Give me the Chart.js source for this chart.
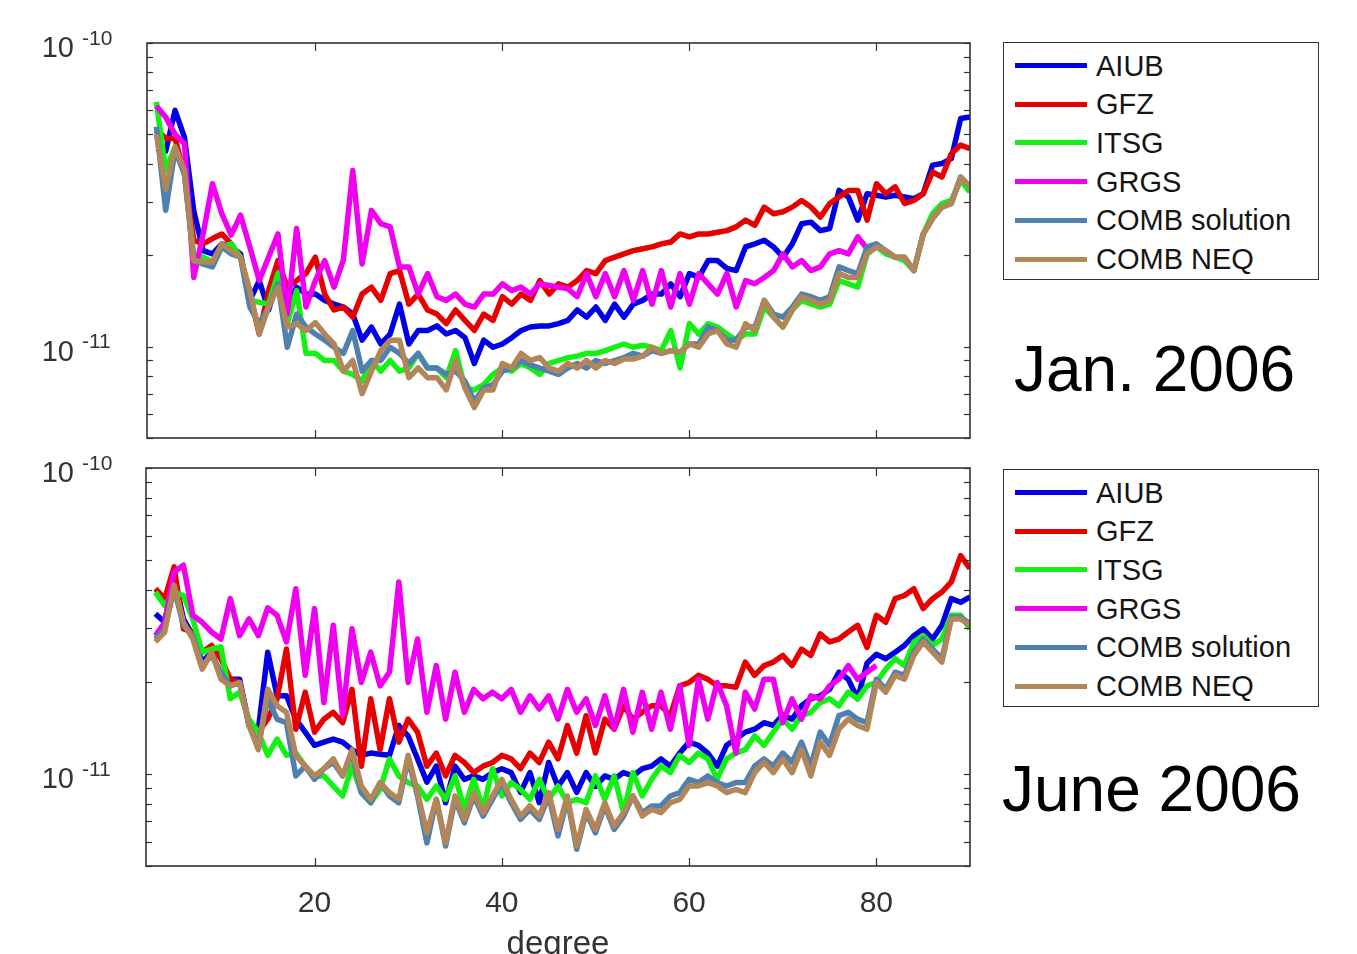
<!DOCTYPE html>
<html><head><meta charset="utf-8">
<script src="https://cdn.jsdelivr.net/npm/chart.js@4.4.1/dist/chart.umd.min.js"></script>
<style>
html,body{margin:0;padding:0;background:#fff;}
body{width:1357px;height:954px;overflow:hidden;position:relative;font-family:"Liberation Sans",Arial,Helvetica,sans-serif;}
canvas{position:absolute;left:0;}
.legend{position:absolute;left:1003px;width:314px;height:236px;border:1.5px solid #333;background:#fff;}
.sw{position:absolute;left:1015px;width:72px;height:5px;}
.lbl{position:absolute;left:1096px;height:38px;line-height:38px;font-size:29px;color:#151515;white-space:nowrap;}
.big{position:absolute;height:66px;line-height:66px;font-size:64px;color:#000;white-space:nowrap;}
</style></head>
<body>
<canvas id="c1" width="1000" height="460" style="top:0px"></canvas>
<canvas id="c2" width="1000" height="520" style="top:455px"></canvas>
<div id="overlay"></div>
<script>
const FONT = '"Liberation Sans", Arial, Helvetica, sans-serif';
const UNIT = 1e-12; // all series values below are in units of 1e-12

const degrees = [3,4,5,6,7,8,9,10,11,12,13,14,15,16,17,18,19,20,21,22,23,24,25,26,27,28,29,30,31,32,
33,34,35,36,37,38,39,40,41,42,43,44,45,46,47,48,49,50,51,52,53,54,55,56,57,58,59,60,61,62,
63,64,65,66,67,68,69,70,71,72,73,74,75,76,77,78,79,80,81,82,83,84,85,86,87,88,89,90];

const seriesNames = ['AIUB','GFZ','ITSG','GRGS','COMB solution','COMB NEQ'];
const seriesColors = ['#0000e6','#e60000','#14f014','#f000f0','#5080b0','#b3865a'];
const panelTitles = ['Jan. 2006','June 2006'];

const xTickValues = [20,40,60,80];
const yMajorTicks = [10,100];
const yTickExponents = ['-11','-10'];
const yMinorTicks = [5,6,7,8,9,20,30,40,50,60,70,80,90];

// ---- January 2006 ----
const janAIUB = [45,44,60,49,28,20.7,20.2,21.8,21.3,20.2,
14.2,16.5,13.2,16.5,13.5,15.7,14.9,14.9,14.2,13.8,
13.5,12.8,10.5,11.6,10.2,11.0,13.8,10.2,11.3,11.3,
11.7,11.0,11.3,10.7,8.8,10.5,9.95,10.2,10.7,11.3,
11.6,11.7,11.7,11.9,12.2,13.2,12.5,13.5,12.2,13.8,
12.5,13.8,14.2,14.9,14.9,16.1,14.6,17.4,16.9,19.2,
19.2,18.1,17.8,21.3,21.8,22.4,21.3,19.7,21.8,25.4,
25.7,24.1,24.5,32.7,31.1,26.1,31.9,31.5,31.1,31.5,
31.1,30.7,31.9,39.6,40.1,41.6,56.4,57.1];
const janGFZ = [52,48.5,48.5,37,22.4,21.8,22.7,23.5,21.8,19.7,
14.9,11.0,15.3,19.2,15.7,16.5,17.4,19.7,14.9,13.2,
13.5,12.5,14.9,15.7,14.2,17.4,17.8,13.8,14.9,13.2,
12.8,11.9,13.2,12.2,11.3,12.8,12.2,14.6,13.8,14.9,
14.2,16.5,14.9,16.1,15.7,16.5,17.8,17.4,19.2,19.7,
20.2,20.7,21.0,21.3,21.8,22.1,23.5,23.0,23.5,23.5,
23.8,24.1,24.8,26.1,25.1,28.8,27.4,27.8,28.8,30.3,
28.8,26.7,29.6,31.1,32.7,32.7,26.1,34.4,31.9,33.6,
29.6,30.3,31.9,37.6,36.2,43.2,46.1,44.9];
const janITSG = [64,38,45.5,37,20,19.7,19.0,21.3,21.8,19.7,
14.2,14.0,13.8,17.4,11.9,15.3,9.5,9.5,9.0,9.0,
8.3,8.1,7.7,9.0,8.3,9.0,8.3,8.5,9.5,8.5,
8.5,7.9,9.7,7.3,7.2,7.5,8.1,8.5,8.3,8.8,
8.5,8.1,8.8,9.0,9.2,9.3,9.5,9.5,9.7,9.95,
10.2,9.95,10.1,9.95,9.7,11.3,8.5,11.9,11.0,11.9,
11.6,11.0,10.5,11.0,11.0,13.5,12.5,11.6,13.2,14.2,
13.8,13.5,13.8,16.5,16.1,15.7,20.2,21.3,20.2,19.7,
19.2,17.8,23.5,27.4,29.6,30.3,35.3,32.3];
const janGRGS = [62,57,50,46.7,16.9,23.5,34.4,27.4,23.3,27.1,
21.3,16.5,19.7,23.5,12.8,24.5,13.5,16.5,19.2,15.7,
19.3,38,18.7,28.1,25.4,24.8,18.3,18.3,14.9,17.4,
14.6,14.2,14.9,13.8,13.5,14.9,14.9,16.1,15.3,15.7,
14.9,16.1,15.9,15.7,15.5,14.6,17.4,14.6,17.4,14.6,
17.8,14.2,17.8,13.8,17.8,13.5,17.4,13.8,17.4,16.1,
14.9,17.4,13.5,16.5,16.1,16.9,17.8,20.2,18.3,19.2,
17.8,18.3,20.2,20.7,20.2,23.0,21.0];
const janCOMBsol = [53,28.1,44.4,37,19.2,18.7,18.3,21.3,20.2,19.7,
13.5,11.9,13.5,16.1,9.95,12.8,11.6,11.0,10.5,9.95,
9.5,11.3,8.3,9.0,9.0,9.95,9.5,8.8,9.5,8.5,
8.5,8.1,8.3,7.7,6.6,7.3,7.5,8.3,8.5,9.0,
8.7,8.5,8.3,8.1,8.5,8.8,8.5,9.0,8.8,9.0,
9.2,9.5,9.3,9.7,9.5,9.7,9.6,10.2,10.2,11.6,
11.3,10.5,10.5,11.6,11.6,14.2,12.8,12.5,13.5,14.9,
14.6,14.2,14.6,18.3,17.8,17.4,21.3,21.8,20.7,19.7,
19.7,17.8,23.5,26.4,28.8,29.6,36.2,33.6];
const janCOMBneq = [50,33,45.5,38,19.2,19.0,19.0,21.8,20.7,19.7,
15.3,11.0,13.5,15.7,11.6,11.9,11.3,12.0,11.0,10.2,
8.3,9.0,7.0,8.3,9.7,10.5,10.5,7.9,8.5,7.9,
7.9,7.2,9.0,7.3,6.3,7.2,7.2,8.8,8.5,9.5,
9.0,9.2,8.5,8.3,8.8,8.5,9.0,8.5,9.0,8.8,
9.1,9.1,9.3,9.95,9.5,9.7,9.6,10.2,9.95,11.0,
11.3,10.2,9.95,11.9,11.3,14.2,12.5,11.6,13.2,14.6,
14.2,13.8,14.2,17.4,16.9,16.9,20.2,21.3,20.7,19.7,
19.7,17.8,23.5,26.4,28.8,29.6,36.2,33.6];

// ---- June 2006 ----
const junAIUB = [33.4,31.3,44.6,32.1,28.3,23.2,25.0,21.0,20.4,20.4,
14.4,14.0,25.0,18.0,18.0,15.1,13.7,12.4,12.7,13.0,
12.7,12.0,11.5,11.7,11.6,11.5,14.4,13.3,11.2,9.4,
10.6,8.05,10.6,9.6,9.85,9.6,10.1,10.4,10.1,8.7,
10.1,8.05,10.9,9.1,10.1,8.7,10.1,9.1,9.85,9.6,
10.1,9.85,10.4,10.6,11.2,10.6,11.7,12.7,12.4,11.7,
10.6,12.4,13.0,13.7,14.0,14.7,14.4,15.6,15.1,16.7,
17.6,18.0,18.9,21.5,20.4,17.6,23.0,24.6,23.8,25.0,
26.3,28.3,29.8,27.6,30.6,37.4,36.4,37.9];
const junGFZ = [40.3,37.4,47.5,29.8,29.1,25.0,26.3,23.8,20.4,19.9,
14.7,13.7,15.1,17.6,25.6,14.0,18.5,13.7,15.1,15.9,
14.7,18.9,10.6,17.6,12.0,17.6,12.7,15.1,13.7,10.6,
11.7,9.85,11.5,10.9,10.1,10.6,10.9,11.5,11.2,10.4,
11.7,10.9,12.7,11.2,14.4,11.7,15.5,11.7,15.1,14.0,
16.7,15.1,15.9,16.7,16.7,15.5,19.4,19.9,21.0,20.4,
19.4,19.4,19.2,23.2,21.0,22.6,23.2,24.4,22.6,25.6,
24.4,28.7,27.0,27.6,29.1,30.6,25.9,33.0,31.3,37.4,
38.3,40.3,34.7,37.4,39.3,42.4,51.7,46.9];
const junITSG = [39.3,35.5,39.3,38.3,32.1,25.0,25.6,26.0,17.6,18.5,
15.1,13.7,11.5,13.0,11.5,11.7,10.6,9.85,9.85,9.13,
8.47,10.6,8.69,8.05,8.9,11.2,9.85,9.37,9.13,8.26,
9.13,8.26,9.85,7.66,9.6,7.66,10.4,8.47,9.37,8.9,
8.26,9.6,8.26,9.13,8.05,8.26,8.05,9.85,8.26,9.85,
7.47,10.1,8.47,9.6,10.6,10.1,11.5,10.9,11.7,11.2,
9.6,11.2,11.7,12.0,13.3,12.4,13.7,15.1,14.0,15.5,
15.9,17.1,17.6,16.7,18.5,17.6,19.4,19.9,22.0,23.8,
22.6,27.0,28.3,26.3,27.6,33.0,33.0,29.8];
const junGRGS = [28.3,31.3,45.7,48.1,33.0,31.3,29.1,27.6,37.4,28.3,
32.1,28.3,34.9,33.0,27.0,40.3,21.0,34.7,17.1,30.6,
15.5,29.8,19.9,25.0,19.4,21.5,42.4,19.9,27.6,15.9,
22.6,15.1,21.5,15.9,18.9,17.6,18.5,17.6,18.9,15.9,
18.0,16.3,18.0,15.1,18.9,15.9,17.6,14.4,18.0,14.0,
18.9,13.7,18.5,14.0,18.5,14.0,19.4,12.4,20.4,15.1,
19.9,16.7,11.7,18.5,16.3,20.4,20.4,14.7,17.6,15.1,
18.0,17.6,19.4,20.4,22.6,20.4,21.5,22.6];
const junCOMBsol = [27.6,29.8,40.3,30.6,28.3,22.6,24.4,21.5,19.4,19.9,
14.4,12.4,17.6,15.1,14.7,9.85,10.6,9.6,10.4,10.9,
9.85,11.7,8.69,8.05,9.37,8.47,8.05,11.2,8.47,5.95,
8.26,5.81,8.26,6.92,8.47,7.28,8.26,9.37,8.05,7.1,
7.66,7.1,8.47,6.27,8.26,5.67,7.47,6.42,7.86,6.58,
7.28,8.47,7.47,7.86,7.86,8.47,8.69,9.6,9.37,9.85,
9.37,9.13,9.37,9.37,10.6,11.2,10.6,11.7,10.9,12.7,
10.6,13.7,12.4,15.5,15.9,15.1,14.7,20.4,18.9,21.5,
21.0,25.0,27.6,25.6,23.8,32.5,32.5,31.0];
const junCOMBneq = [27.0,29.1,41.4,31.3,27.6,22.0,25.0,20.4,19.4,19.9,
14.4,12.0,18.9,16.7,15.9,11.5,10.6,9.85,10.4,11.2,
9.85,12.0,9.13,8.26,9.37,8.69,8.26,11.5,8.69,6.42,
8.26,5.95,8.47,7.1,8.69,7.47,8.47,9.6,8.26,7.28,
7.86,7.28,8.69,6.58,8.47,5.81,7.66,6.58,8.05,6.75,
7.47,8.47,7.28,7.66,7.47,8.05,8.26,9.13,9.13,9.37,
9.13,8.69,8.9,8.69,10.1,10.9,10.1,11.2,10.1,12.0,
9.85,12.7,11.5,14.0,15.1,14.4,14.0,19.9,18.5,21.0,
20.4,24.4,27.0,25.0,23.2,32.1,32.1,30.6];

const janSeries = [janAIUB,janGFZ,janITSG,janGRGS,janCOMBsol,janCOMBneq];
const junSeries = [junAIUB,junGFZ,junITSG,junGRGS,junCOMBsol,junCOMBneq];

function toPoints(arr){ return arr.map((v,i)=>({x:degrees[i], y:v*UNIT})); }

const framePlugin = {
  id:'frame',
  afterDraw(chart){
    const {ctx, chartArea:a, scales:{x,y}} = chart;
    ctx.save();
    ctx.strokeStyle = '#333';
    ctx.lineWidth = 1.2;
    const seg=(x1,y1,x2,y2)=>{ctx.beginPath();ctx.moveTo(x1,y1);ctx.lineTo(x2,y2);ctx.stroke();};
    xTickValues.forEach(v=>{
      const p = Math.round(x.getPixelForValue(v))+0.5;
      seg(p,a.bottom,p,a.bottom-8); seg(p,a.top,p,a.top+8);
    });
    yMinorTicks.concat(yMajorTicks).forEach(v=>{
      const p = Math.round(y.getPixelForValue(v*UNIT))+0.5;
      seg(a.left,p,a.left+6,p); seg(a.right,p,a.right-6,p);
    });
    ctx.lineWidth = 1.6;
    ctx.strokeRect(a.left, a.top, a.right-a.left, a.bottom-a.top);
    ctx.fillStyle = '#333';
    ctx.textBaseline = 'middle';
    yMajorTicks.forEach((v,i)=>{
      const p = y.getPixelForValue(v*UNIT);
      ctx.font = '29px '+FONT; ctx.textAlign='right'; ctx.fillText('10', 74, p+6);
      ctx.font = '21px '+FONT; ctx.textAlign='left';
      ctx.fillText(yTickExponents[i], 82, p-4);
    });
    ctx.restore();
  }
};

function makeChart(id, seriesArrays, o){
  const datasets = seriesArrays.map((arr,i)=>({
    label: seriesNames[i],
    data: toPoints(arr),
    borderColor: seriesColors[i],
    backgroundColor: seriesColors[i],
    borderWidth: 5.5,
    pointRadius: 0,
    tension: 0,
    fill: false,
    borderJoinStyle: 'round',
    order: seriesNames.length-1-i
  }));
  return new Chart(document.getElementById(id), {
    type:'line',
    data:{datasets},
    plugins:[framePlugin],
    options:{
      responsive:false, animation:false, events:[],
      layout:{padding:{left:0,right:30,top:o.padTop,bottom:0}},
      plugins:{legend:{display:false}, tooltip:{enabled:false}, title:{display:false}},
      scales:{
        x:{type:'linear', min:2, max:90,
          grid:{display:false, drawTicks:false}, border:{display:false},
          afterBuildTicks:s=>{ s.ticks = xTickValues.map(v=>({value:v})); },
          afterFit:s=>{ s.height = o.xHeight; },
          ticks:{display:o.showX, autoSkip:false, maxRotation:0, minRotation:0, padding:20, color:'#333',
                 font:{family:FONT, size:30}},
          title:{display:o.showX, text:'degree', color:'#333', font:{family:FONT, size:33},
                 padding:{top:0,bottom:10}}
        },
        y:{type:'logarithmic', min:5*UNIT, max:100*UNIT,
          grid:{display:false, drawTicks:false}, border:{display:false},
          ticks:{display:false},
          afterFit:s=>{ s.width = o.yWidth; }
        }
      }
    }
  });
}

makeChart('c1', janSeries, {padTop:43, xHeight:22, yWidth:147, showX:false});
makeChart('c2', junSeries, {padTop:13, xHeight:109, yWidth:146, showX:true});

// HTML legends and panel titles
const overlay = document.getElementById('overlay');
const legendTops = [42, 469];
const titlePos = [{left:1014, cy:369}, {left:1002, cy:789}];
legendTops.forEach((top,p)=>{
  const box = document.createElement('div');
  box.className='legend'; box.style.top = top+'px';
  overlay.appendChild(box);
  seriesNames.forEach((name,i)=>{
    const cy = top + 23.5 + i*38.7;
    const sw = document.createElement('div');
    sw.className='sw'; sw.style.top=(cy-2.5)+'px'; sw.style.background=seriesColors[i];
    overlay.appendChild(sw);
    const lb = document.createElement('div');
    lb.className='lbl'; lb.style.top=(cy-19)+'px'; lb.textContent=name;
    overlay.appendChild(lb);
  });
  const t = document.createElement('div');
  t.className='big'; t.style.left=titlePos[p].left+'px'; t.style.top=(titlePos[p].cy-33)+'px';
  t.textContent = panelTitles[p];
  overlay.appendChild(t);
});
</script>
</body></html>
